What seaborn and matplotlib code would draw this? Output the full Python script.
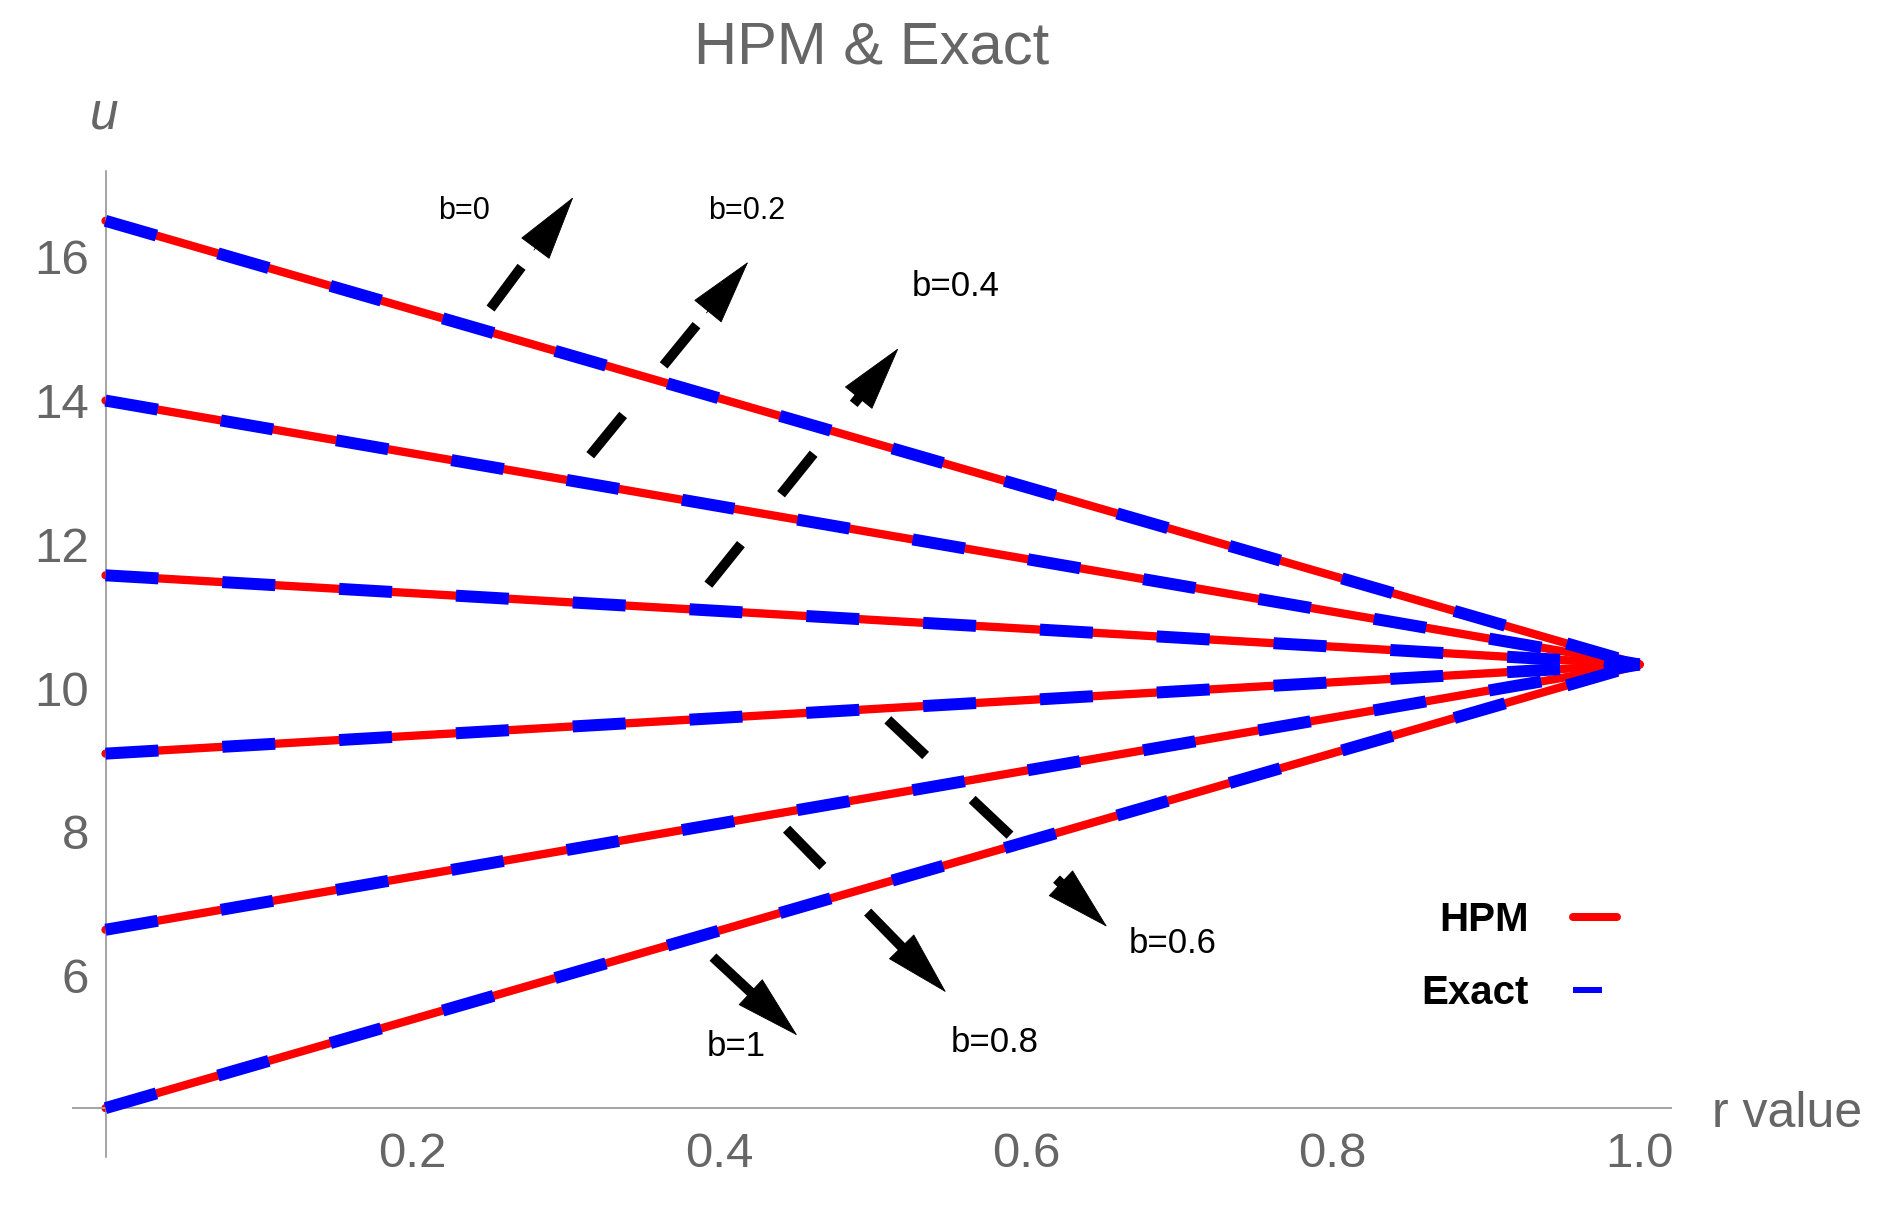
import numpy as np
import pandas as pd
import matplotlib
matplotlib.use("Agg")
import matplotlib.pyplot as plt
import seaborn as sns
from matplotlib.lines import Line2D
from matplotlib.ticker import FixedLocator, MultipleLocator, FixedFormatter

# ---------------- data ----------------
r_points = [0.0, 1.0]
b_values = [0, 0.2, 0.4, 0.6, 0.8, 1]
hpm_u_start = [16.50, 14.00, 11.57, 9.09, 6.64, 4.16]
hpm_u_end = [10.33, 10.33, 10.33, 10.33, 10.33, 10.33]
exact_u_start = [16.50, 14.00, 11.57, 9.09, 6.64, 4.16]
exact_u_end = [10.33, 10.33, 10.33, 10.33, 10.33, 10.33]

x_ticks = [0.2, 0.4, 0.6, 0.8, 1.0]
x_tick_labels = ["0.2", "0.4", "0.6", "0.8", "1.0"]
y_ticks = [6, 8, 10, 12, 14, 16]
y_tick_labels = ["6", "8", "10", "12", "14", "16"]

legend_labels = ["HPM", "Exact"]

# annotation arrows (data coordinates)
arrow_labels = ["b=0", "b=0.2", "b=0.4", "b=0.6", "b=0.8", "b=1"]
arrow_start_r = [0.251, 0.316, 0.393, 0.510, 0.444, 0.396]
arrow_start_u = [15.28, 13.24, 11.44, 9.56, 8.04, 6.26]
arrow_tip_r = [0.305, 0.419, 0.517, 0.653, 0.548, 0.451]
arrow_tip_u = [16.83, 15.93, 14.73, 6.68, 5.77, 5.17]
label_r = [0.2335, 0.418, 0.554, 0.696, 0.580, 0.411]
label_u = [16.52, 16.52, 15.46, 6.32, 4.94, 4.885]
label_size = [22, 22, 25, 25, 25, 25]

# ---------------- style ----------------
sns.set_style("white")
plt.rcParams["font.family"] = ["Liberation Sans", "DejaVu Sans"]
plt.rcParams["lines.scale_dashes"] = False

PX = 72.0 / 100.0  # points per pixel at dpi 100
GRAY_TXT = "#666666"

fig = plt.figure(figsize=(18.87, 12.15), dpi=100)
ax = fig.add_axes([0.03884, 0.04798, 0.84647, 0.81128])
ax.set_xlim(-0.0210, 1.0203)
ax.set_ylim(3.484, 17.193)


def long_frame(starts, ends):
    recs = []
    for b, u0, u1 in zip(b_values, starts, ends):
        for r, u in zip(r_points, (u0, u1)):
            recs.append({"r": r, "u": u, "b": b})
    return pd.DataFrame(recs)


df_hpm = long_frame(hpm_u_start, hpm_u_end)
df_exact = long_frame(exact_u_start, exact_u_end)

sns.lineplot(data=df_hpm, x="r", y="u", units="b", estimator=None,
             color="#ff0000", lw=8.3 * PX, legend=False, ax=ax, zorder=2)
sns.lineplot(data=df_exact, x="r", y="u", units="b", estimator=None,
             color="#0000ff", lw=12 * PX, linestyle=(0, (53 * PX, 64 * PX)),
             dash_capstyle="butt", legend=False, ax=ax, zorder=3)
ax.set_xlabel("")
ax.set_ylabel("")

# ---------------- axes styling (Mathematica-like) ----------------
for s in ["top", "right"]:
    ax.spines[s].set_visible(False)
ax.spines["left"].set_position(("data", 0.0))
ax.spines["bottom"].set_position(("data", 4.163))
ax.spines["left"].set_color("#8c8c8c")
ax.spines["bottom"].set_color("#a3a3a3")
ax.spines["left"].set_linewidth(1.1)
ax.spines["bottom"].set_linewidth(1.4)

ax.xaxis.set_major_locator(FixedLocator(x_ticks))
ax.xaxis.set_major_formatter(FixedFormatter(x_tick_labels))
ax.xaxis.set_minor_locator(MultipleLocator(0.05))
ax.yaxis.set_major_locator(FixedLocator(y_ticks))
ax.yaxis.set_major_formatter(FixedFormatter(y_tick_labels))
ax.yaxis.set_minor_locator(MultipleLocator(0.5))

ax.tick_params(axis="both", which="both", direction="in", color="#9a9a9a",
               width=1.0, labelcolor=GRAY_TXT, labelsize=35.5)
ax.tick_params(axis="both", which="major", length=8 * PX)
ax.tick_params(axis="both", which="minor", length=5 * PX)
ax.tick_params(axis="x", which="major", pad=17.5)
ax.tick_params(axis="y", which="major", pad=12)
ax.grid(False)

# ---------------- arrows and labels ----------------
to_px = ax.transData.transform
to_data = ax.transData.inverted().transform
for i in range(len(arrow_labels)):
    p0 = np.array(to_px((arrow_start_r[i], arrow_start_u[i])))
    p1 = np.array(to_px((arrow_tip_r[i], arrow_tip_u[i])))
    d = (p1 - p0) / np.hypot(*(p1 - p0))
    shaft_end = to_data(p1 - d * 25)
    head_base = to_data(p1 - d * 66)
    ax.plot([arrow_start_r[i], shaft_end[0]], [arrow_start_u[i], shaft_end[1]],
            color="black", lw=10 * PX, linestyle=(0, (52 * PX, 64 * PX)),
            dash_capstyle="butt", zorder=5)
    ax.annotate("", xy=(arrow_tip_r[i], arrow_tip_u[i]), xytext=tuple(head_base),
                arrowprops=dict(arrowstyle=f"-|>,head_length={62 * PX:.2f},head_width={17 * PX:.2f}",
                                color="black", lw=0.6, shrinkA=0, shrinkB=0,
                                mutation_scale=1),
                zorder=6)
    ax.text(label_r[i], label_u[i], arrow_labels[i], ha="center", va="baseline",
            fontsize=label_size[i], color="black", zorder=7)

# ---------------- legend ----------------
handles = [Line2D([], [], color="#ff0000", lw=8 * PX),
           Line2D([], [], color="#0000ff", lw=6 * PX, linestyle=(0, (29 * PX, 40)))]
leg = ax.legend(handles, legend_labels, loc="upper right",
                bbox_to_anchor=(1617 / 1887, (1215 - 901) / 1215),
                bbox_transform=fig.transFigure, frameon=False, markerfirst=False,
                prop={"family": ["Liberation Sans", "DejaVu Sans"], "weight": "bold", "size": 29},
                handlelength=1.1, handletextpad=1.1, labelspacing=0.86,
                borderpad=0, borderaxespad=0)
for t in leg.get_texts():
    t.set_color("black")

# ---------------- titles / axis labels ----------------
fig.text(871.7 / 1887, (1215 - 64) / 1215, "HPM & Exact", ha="center", va="baseline",
         fontsize=43, color=GRAY_TXT)
fig.text(104 / 1887, (1215 - 128.3) / 1215, "u", ha="center", va="baseline",
         fontsize=37, style="italic", color=GRAY_TXT)
fig.text(1711.8 / 1887, (1215 - 1126.7) / 1215, "r value", ha="left", va="baseline",
         fontsize=36, color=GRAY_TXT)

fig.savefig("out.png", dpi=100)
